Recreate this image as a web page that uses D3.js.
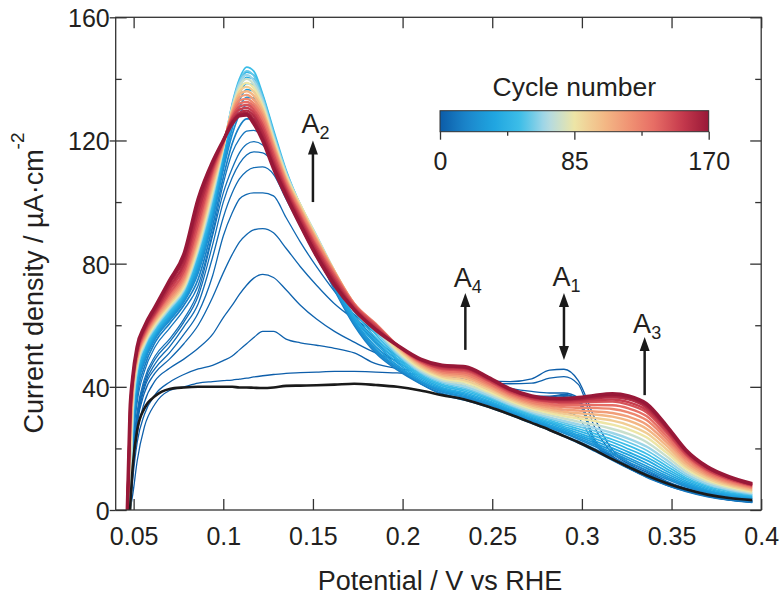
<!DOCTYPE html>
<html>
<head>
<meta charset="utf-8">
<script src="https://cdn.jsdelivr.net/npm/d3@7"></script>
<style>
  body { margin: 0; background: #fff; }
  svg { display: block; font-family: "Liberation Sans", Arial, sans-serif; }
</style>
</head>
<body>
<div id="chart"></div>
<script>
// potential grid (V vs RHE), shared by all cycles
const potential = [0.0465, 0.048, 0.0495, 0.052, 0.056, 0.062, 0.07, 0.078, 0.086, 0.094,
  0.1, 0.105, 0.109, 0.113, 0.117, 0.122, 0.128, 0.135, 0.143, 0.152,
  0.162, 0.173, 0.185, 0.197, 0.21, 0.222, 0.235, 0.248, 0.26, 0.272,
  0.282, 0.29, 0.298, 0.307, 0.317, 0.326, 0.336, 0.347, 0.358, 0.37,
  0.382, 0.395];

// current density (µA/cm2) for a selection of cycles
const j0 = [null, 0, 14, 26, 33, 37, 39.3, 39.8, 40, 40, 40, 40, 39.8, 39.8, 39.7, 39.6, 39.8, 40.3, 40.4, 40.5, 40.7, 41, 40.6, 40, 38.8, 37.3, 35.8, 33.5, 31, 28.3, 26, 24, 22, 19.5, 16.5, 14, 11.3, 8.8, 6.7, 5, 3.9, 3.2];
const j1 = [null, 0, 5, 16, 27, 34.5, 38.8, 40, 41.2, 41.7, 42, 42.2, 42.5, 42.8, 43.2, 43.6, 44, 44.4, 44.6, 44.8, 45, 45, 44.8, 44.5, 44, 43.5, 43, 42, 41.7, 42.6, 45.4, 45.7, 42, 30, 19.5, 15.5, 12.8, 9.4, 7.1, 5.2, 3.9, 3.1];
const j2 = [null, 0, 10, 22, 31, 37.5, 41.5, 44, 45.8, 47, 48.5, 50, 52, 54, 56, 58, 58, 55.5, 54.3, 53.5, 52.5, 51, 47.5, 46, 45, 44, 43, 41.3, 41, 41.2, 42.8, 43.3, 40.8, 27, 18.5, 15, 12.3, 9.1, 6.9, 5, 3.8, 3];
const j3 = [null, 0, 12, 25, 35, 42, 46, 49, 52.5, 57, 62.5, 66.5, 70, 73, 75.3, 76.5, 75.5, 71.5, 66.5, 62, 58, 54.5, 51, 48.5, 46.5, 45, 43.5, 41, 39.5, 38.5, 38, 38, 36.5, 23, 17.5, 14.5, 11.5, 8.7, 6.7, 4.9, 3.7, 2.9];
const j4 = [null, 0, 14, 28, 38, 44.5, 49, 54, 60, 69, 77, 83, 87, 89.5, 91, 91.4, 90, 85, 79, 73, 67, 62, 57.5, 52.5, 48.5, 45.5, 43.5, 41, 38.5, 37, 37, 37.5, 36, 22.5, 17.2, 14.2, 11.3, 8.5, 6.5, 4.8, 3.6, 2.8];
const j5 = [null, 0, 15, 29, 39.5, 46, 51, 57, 64, 76, 89, 96.5, 101, 102.5, 103, 103, 102, 95, 87, 79, 71, 63.5, 57.5, 52.5, 48.5, 46, 44.5, 41.5, 38.5, 36.5, 36.7, 37.2, 35.8, 22.3, 17, 14, 11.1, 8.4, 6.4, 4.7, 3.5, 2.7];
const j6 = [null, 0, 16, 30, 40.5, 47.5, 53, 59.5, 67, 82, 95, 103, 107.5, 110, 111.2, 111.4, 109, 101, 92, 82, 72.5, 63, 55.5, 50, 46.5, 44, 42.5, 40.5, 38, 35.8, 36.2, 36.8, 35.2, 22, 16.8, 13.8, 11, 8.3, 6.3, 4.6, 3.4, 2.6];
const j7 = [null, 0, 17, 31, 41.5, 49, 54.5, 61, 69.5, 86, 100, 108, 112.5, 115.3, 116.3, 116, 112.5, 104, 94, 83, 72.5, 62.5, 54.5, 49, 45.5, 43, 41.5, 40, 37.5, 35, 35.3, 36, 34.8, 21.8, 16.6, 13.6, 10.9, 8.2, 6.2, 4.5, 3.3, 2.5];
const j8 = [null, 0, 18, 32, 42.5, 50, 55.5, 62, 71, 89, 103, 111, 116, 118.8, 119.6, 118.5, 114, 105, 95, 83, 72, 61.5, 53, 48, 44.5, 42, 40.5, 39, 36.5, 33.5, 32.5, 32, 30, 21.5, 16.4, 13.5, 10.8, 8.1, 6.1, 4.4, 3.2, 2.4];
const j10 = [null, 0, 20, 35, 45, 53, 59, 65, 73, 90, 106, 116, 120.5, 123, 123.3, 121, 114.5, 104.5, 94, 83, 72, 61, 52, 46, 41, 37.5, 35.6, 33.3, 30.8, 28.1, 25.8, 23.8, 21.7, 19.1, 16.1, 13.5, 10.6, 8.1, 6, 4.3, 3.2, 2.5];
const j14 = [null, 0, 22, 37, 46.5, 54.5, 60.5, 66.5, 75, 92, 108, 119, 124.5, 127, 127, 124, 116.5, 106, 95, 83.5, 71.5, 60, 51, 45.5, 41, 37.8, 36, 33.7, 31.2, 28.5, 26.2, 24.2, 22.3, 19.9, 16.9, 14.5, 11.8, 9.2, 6.6, 4.8, 3.6, 2.8];
const j20 = [null, 0, 24, 39, 48, 55.5, 61.5, 67.5, 77, 94, 110.5, 122, 128.5, 131.5, 131.5, 127.5, 118, 107, 95.5, 84, 72, 60.5, 51.5, 46, 41.5, 38.3, 36.5, 34.2, 31.6, 28.9, 26.7, 24.9, 23, 20.7, 18, 15.6, 12.9, 10.1, 7.6, 5.6, 4.4, 3.6];
const j24 = [null, 0, 25, 40, 48.8, 56, 62, 68, 78, 95.2, 111.8, 124, 130.8, 134, 133.8, 129.2, 119, 107.5, 95.8, 84.2, 72.2, 61, 52.2, 46.5, 41.8, 38.6, 36.8, 34.4, 31.8, 29.1, 27, 25.2, 23.4, 21.2, 18.6, 16.3, 13.6, 10.6, 8, 5.9, 4.6, 3.7];
const j28 = [null, 0, 26, 41, 49.5, 56.5, 62.5, 68.5, 79, 96.5, 113, 126, 133, 136.5, 136, 131, 120, 108, 96, 84.5, 72.5, 61.5, 53, 47, 42, 39, 37.2, 34.7, 32.1, 29.4, 27.3, 25.6, 23.9, 21.8, 19.3, 17, 14.3, 11.2, 8.4, 6.2, 4.8, 3.9];
const j33 = [null, 0, 27, 42, 50.2, 57, 63, 69, 80, 97.2, 114, 127.5, 135, 138.5, 138, 132.5, 121, 108.5, 96.5, 85.2, 73.5, 62.2, 54, 47.8, 42.5, 39.4, 37.6, 35.1, 32.4, 29.7, 27.7, 26.1, 24.4, 22.5, 20.1, 17.9, 15.2, 11.9, 8.9, 6.5, 5, 4.1];
const j38 = [null, 0, 28, 43, 51, 57.5, 63.5, 69.5, 81, 98, 115, 129, 137, 140.5, 140, 134, 122, 109, 97, 86, 74.5, 63, 55, 48.5, 43, 39.8, 38, 35.5, 32.7, 30.1, 28.2, 26.6, 25, 23.2, 21, 18.8, 16.2, 12.7, 9.4, 6.9, 5.3, 4.3];
const j44 = [null, 0, 29, 44, 51.8, 58, 64, 70, 82, 99, 116, 130.5, 138.5, 142.2, 141.3, 134.5, 122.8, 109.8, 98, 87.2, 76, 64.5, 56, 49.2, 43.5, 40.3, 38.5, 36, 33.1, 30.5, 28.6, 27.1, 25.7, 24, 22, 19.8, 17.2, 13.5, 10, 7.3, 5.6, 4.5];
const j50 = [null, 0, 30, 45, 52.5, 58.5, 64.5, 70.5, 83, 100, 117, 132, 140, 143.8, 142.5, 135, 123.5, 110.5, 99, 88.5, 77.5, 66, 57, 50, 44, 40.8, 39, 36.4, 33.5, 30.9, 29.1, 27.7, 26.4, 24.8, 22.9, 20.9, 18.3, 14.4, 10.5, 7.7, 6, 4.8];
const j57 = [null, 0, 31, 45.5, 53, 59, 65, 71, 83.8, 101, 117.2, 131.5, 139.2, 142.6, 141, 134, 122.5, 110, 99, 88.8, 77.5, 66, 57.8, 50.5, 44.5, 41.3, 39.5, 36.8, 33.9, 31.3, 29.6, 28.3, 27.1, 25.7, 24, 22, 19.4, 15.3, 11.1, 8.1, 6.3, 5];
const j65 = [null, 0, 32, 46, 53.5, 59.5, 65.5, 71.5, 84.5, 102, 117.5, 131, 138.5, 141.3, 139.5, 133, 121.5, 109.5, 99, 89, 77.5, 66, 58.5, 51, 45, 41.8, 40.1, 37.3, 34.3, 31.8, 30.1, 28.9, 27.8, 26.6, 25, 23.2, 20.6, 16.3, 11.8, 8.6, 6.7, 5.3];
const j75 = [null, 0, 34.5, 47, 54, 60, 66, 72, 85.2, 103, 117.8, 130.5, 137.5, 140, 138.2, 132, 120.8, 109, 99, 88.8, 77.5, 66.2, 59, 51.5, 45.5, 42.3, 40.8, 37.9, 34.8, 32.3, 30.8, 29.7, 28.7, 27.7, 26.3, 24.7, 22.1, 17.5, 12.6, 9.2, 7.1, 5.6];
const j85 = [0, 20, 37, 48, 54.5, 60.5, 66.5, 72.5, 86, 104, 118, 130, 136.5, 138.7, 137, 131, 120, 108.5, 99, 88.5, 77.5, 66.5, 59.5, 52, 46, 42.8, 41.5, 38.5, 35.4, 32.9, 31.5, 30.5, 29.7, 28.9, 27.7, 26.2, 23.6, 18.7, 13.5, 9.8, 7.6, 6];
const j95 = [0, 21.5, 37.8, 48.5, 55, 61, 67, 73.2, 87, 105, 118.2, 129.8, 135.8, 137.4, 135.8, 130.2, 119.5, 108, 98.5, 88.2, 77.5, 66.8, 59.8, 52.5, 46.5, 43.3, 42.1, 39.1, 35.9, 33.4, 32.1, 31.2, 30.5, 29.9, 29, 27.6, 25, 19.8, 14.2, 10.3, 8, 6.3];
const j105 = [0, 23, 38.5, 49, 55.5, 61.5, 67.5, 74, 88, 106, 118.5, 129.5, 135, 136, 134.5, 129.5, 119, 107.5, 98, 88, 77.5, 67, 60, 53, 47, 43.8, 42.8, 39.7, 36.4, 34, 32.7, 31.9, 31.4, 31, 30.3, 29, 26.4, 21, 15, 10.9, 8.4, 6.6];
const j115 = [0, 24.5, 39.2, 49.5, 56, 62, 68.2, 74.8, 89, 107, 118.8, 129, 134, 134.8, 133.2, 128.5, 118.2, 107, 97.5, 87.5, 77.2, 67, 60.2, 53.2, 47.4, 44.3, 43.4, 40.2, 36.9, 34.5, 33.3, 32.6, 32.3, 32, 31.5, 30.3, 27.8, 22.1, 15.8, 11.4, 8.8, 7];
const j125 = [0, 26, 40, 50, 56.5, 62.5, 69, 75.5, 90, 108, 119, 128.5, 133, 133.5, 132, 127.5, 117.5, 106.5, 97, 87, 77, 67, 60.5, 53.5, 47.8, 44.8, 44, 40.8, 37.4, 35, 33.9, 33.4, 33.2, 33.1, 32.8, 31.7, 29.2, 23.2, 16.6, 11.9, 9.2, 7.3];
const j135 = [0, 27.5, 40.8, 50.5, 57, 63, 69.8, 76.5, 91.5, 109, 119.2, 128, 132, 132.5, 131, 126.2, 116.5, 105.8, 96.2, 86.2, 76.5, 66.8, 60.2, 53.5, 48, 45.3, 44.6, 41.3, 37.8, 35.5, 34.5, 34, 34, 34.1, 34, 33, 30.5, 24.2, 17.3, 12.4, 9.6, 7.6];
const j145 = [0, 29, 41.5, 51, 57.5, 63.5, 70.5, 77.5, 93, 110, 119.5, 127.5, 131, 131.5, 130, 125, 115.5, 105, 95.5, 85.5, 76, 66.5, 60, 53.5, 48.3, 45.8, 45.2, 41.9, 38.3, 36, 35.1, 34.7, 34.8, 35.1, 35.2, 34.2, 31.7, 25.3, 18, 12.9, 10, 7.9];
const j152 = [0, 30, 42, 51.5, 58, 64, 71.5, 78.8, 95, 110.8, 119.8, 127, 130, 130.6, 129, 123.8, 114.2, 104.2, 94.8, 84.8, 75.2, 66, 59.5, 53.5, 48.5, 46.1, 45.6, 42.2, 38.6, 36.3, 35.4, 35.1, 35.3, 35.7, 35.9, 35, 32.5, 25.9, 18.4, 13.2, 10.2, 8];
const j160 = [0, 31, 42.5, 52, 58.5, 64.5, 72.5, 80, 97, 111.5, 120, 126.5, 129, 129.7, 128, 122.5, 113, 103.5, 94, 84, 74.5, 65.5, 59, 53.5, 48.7, 46.5, 46, 42.5, 38.9, 36.6, 35.8, 35.6, 35.8, 36.3, 36.6, 35.9, 33.3, 26.6, 18.9, 13.6, 10.5, 8.2];
const j165 = [0, 31.5, 42.8, 52.5, 59, 65.2, 73.5, 81.5, 99, 112.2, 120, 126, 128.5, 129, 126.8, 121.2, 112, 102.8, 93.2, 83.2, 73.8, 65.2, 58.8, 53.5, 48.8, 46.8, 46.2, 42.8, 39.1, 36.8, 36, 35.9, 36.1, 36.7, 37.1, 36.4, 33.9, 27, 19.2, 13.8, 10.6, 8.3];
const j170 = [0, 32, 43, 53, 59.5, 66, 74.5, 83, 101, 113, 120, 125.5, 128, 128.3, 125.5, 120, 111, 102, 92.5, 82.5, 73, 65, 58.5, 53.5, 49, 47, 46.5, 43, 39.3, 37, 36.3, 36.2, 36.5, 37.2, 37.7, 37, 34.5, 27.5, 19.5, 14, 10.8, 8.5];

const cycles = [[1, j1], [2, j2], [3, j3], [4, j4], [5, j5], [6, j6], [7, j7], [8, j8], [10, j10],
  [14, j14], [20, j20], [24, j24], [28, j28], [33, j33], [38, j38], [44, j44], [50, j50],
  [57, j57], [65, j65], [75, j75], [85, j85], [95, j95], [105, j105], [115, j115],
  [125, j125], [135, j135], [145, j145], [152, j152], [160, j160], [165, j165], [170, j170]];

const colorStops = ["#0c5ca8", "#1b86cb", "#1fa5e0", "#3ebee9", "#b0dae6", "#ede5a6",
  "#f3bd88", "#f19474", "#e66c64", "#c63a4d", "#981838"];

const xTicks = [0.05, 0.1, 0.15, 0.2, 0.25, 0.3, 0.35, 0.4];
const xTickLabels = ["0.05", "0.1", "0.15", "0.2", "0.25", "0.3", "0.35", "0.4"];
const yTicks = [0, 40, 80, 120, 160];
const yMinorTicks = [20, 60, 100, 140];
const cbTicks = [0, 85, 170];
const cbMinorTicks = [42.5, 127.5];

// peak annotations
const peakNames = ["2", "4", "1", "3"];
const peakPotential = [0.15, 0.235, 0.29, 0.335];
const arrowFrom = [100, 52, 48.7, 37.3];
const arrowTo = [120, 70.5, 70.5, 56.2];
const arrowBoth = [false, false, true, false];
const labelCurrent = [122.4, 72.4, 72.7, 57.5];

const width = 781, height = 597;
const plotLeft = 115.7, plotTop = 17.3;
const plotW = 761.2 - plotLeft, plotH = 510 - plotTop;
const ink = "#231f20";

const svg = d3.select("#chart").append("svg")
    .attr("width", width)
    .attr("height", height);

const x = d3.scaleLinear().domain([0.04, 0.4]).range([0, plotW]);
const y = d3.scaleLinear().domain([0, 160]).range([plotH, 0]);
const color = d3.scaleLinear()
    .domain(colorStops.map((c, i) => i * 170 / (colorStops.length - 1)))
    .range(colorStops)
    .interpolate(d3.interpolateRgb);

const defs = svg.append("defs");
defs.append("clipPath").attr("id", "clip")
    .append("rect").attr("width", plotW).attr("height", plotH);

const g = svg.append("g").attr("transform", `translate(${plotLeft},${plotTop})`);

const line = d3.line()
    .defined(d => d[1] !== null)
    .x(d => x(d[0]))
    .y(d => y(d[1]))
    .curve(d3.curveMonotoneX);

const toPoints = vals => vals.map((v, i) => [potential[i], v]);

function strokeFor(c) {
    if (c === 170) return 3.6;
    if (c <= 10) return 1.3;
    if (c <= 57) return 1.7;
    return 2.4;
}

const curves = g.append("g").attr("clip-path", "url(#clip)");

curves.selectAll("path.cycle")
    .data(cycles)
    .join("path")
    .attr("class", "cycle")
    .attr("fill", "none")
    .attr("stroke", d => color(d[0]))
    .attr("stroke-width", d => strokeFor(d[0]))
    .attr("stroke-linejoin", "round")
    .attr("d", d => line(toPoints(d[1])));

// cycle 0 on top, in black
curves.append("path")
    .attr("fill", "none")
    .attr("stroke", "#1a1a1a")
    .attr("stroke-width", 2.6)
    .attr("stroke-linejoin", "round")
    .attr("d", line(toPoints(j0)));

// axes
function styleAxis(sel) {
    sel.attr("color", "#333")
        .attr("font-size", 25)
        .attr("font-family", "Liberation Sans, Arial, sans-serif");
    sel.select(".domain").remove();
    sel.selectAll(".tick line").attr("stroke-width", 1.3);
    sel.selectAll(".tick text").attr("fill", ink);
}

g.append("g")
    .attr("transform", `translate(0,${plotH})`)
    .call(d3.axisBottom(x).tickValues(xTicks).tickFormat((d, i) => xTickLabels[i])
        .tickSizeInner(-11).tickSizeOuter(0).tickPadding(17))
    .call(styleAxis);

g.append("g")
    .call(d3.axisTop(x).tickValues(xTicks).tickFormat("").tickSizeInner(-11).tickSizeOuter(0))
    .call(styleAxis);

g.append("g")
    .call(d3.axisLeft(y).tickValues(yTicks).tickSizeInner(-11).tickSizeOuter(0).tickPadding(6))
    .call(styleAxis)
    .call(s => s.selectAll(".tick text").attr("dy", "0.38em"));

g.append("g")
    .call(d3.axisLeft(y).tickValues(yTicks).tickFormat("").tickSizeInner(6).tickSizeOuter(0))
    .call(styleAxis);

g.append("g")
    .call(d3.axisLeft(y).tickValues(yMinorTicks).tickFormat("").tickSizeInner(-6).tickSizeOuter(0))
    .call(styleAxis);

g.append("g")
    .attr("transform", `translate(${plotW},0)`)
    .call(d3.axisRight(y).tickValues(yTicks).tickFormat("").tickSizeInner(-11).tickSizeOuter(0))
    .call(styleAxis);

g.append("g")
    .attr("transform", `translate(${plotW},0)`)
    .call(d3.axisRight(y).tickValues(yMinorTicks).tickFormat("").tickSizeInner(-6).tickSizeOuter(0))
    .call(styleAxis);

g.append("rect")
    .attr("width", plotW)
    .attr("height", plotH)
    .attr("fill", "none")
    .attr("stroke", "#333")
    .attr("stroke-width", 1.3);

// axis titles
svg.append("text")
    .attr("x", 440)
    .attr("y", 590)
    .attr("text-anchor", "middle")
    .attr("font-size", 27)
    .attr("fill", ink)
    .text("Potential / V vs RHE");

const yTitle = svg.append("text")
    .attr("transform", "translate(43,283) rotate(-90)")
    .attr("text-anchor", "middle")
    .attr("font-size", 27)
    .attr("fill", ink);
yTitle.append("tspan").text("Current density / µA·cm");
yTitle.append("tspan").attr("dy", -19).attr("font-size", 19).text("-2");

// peak arrows
const arrows = g.append("g");
peakNames.forEach(function(name, i) {
    const px = x(peakPotential[i]);
    const yTip = y(arrowTo[i]);
    const yTail = y(arrowFrom[i]);
    const head = 14, half = 5;
    arrows.append("line")
        .attr("x1", px).attr("x2", px)
        .attr("y1", arrowBoth[i] ? yTail - head + 1 : yTail)
        .attr("y2", yTip + head - 1)
        .attr("stroke", "#1a1a1a")
        .attr("stroke-width", 2.5);
    arrows.append("path")
        .attr("d", `M${px},${yTip}L${px - half},${yTip + head}L${px + half},${yTip + head}Z`)
        .attr("fill", "#1a1a1a");
    if (arrowBoth[i]) {
        arrows.append("path")
            .attr("d", `M${px},${yTail}L${px - half},${yTail - head}L${px + half},${yTail - head}Z`)
            .attr("fill", "#1a1a1a");
    }
    const t = arrows.append("text")
        .attr("x", px + 2.5)
        .attr("y", y(labelCurrent[i]))
        .attr("text-anchor", "middle")
        .attr("fill", ink)
        .attr("font-size", 27);
    t.append("tspan").text("A");
    t.append("tspan").attr("dy", 6).attr("font-size", 18).text(name);
});

// colour bar
const cbX = 440, cbY = 110.7, cbW = 268.7, cbH = 21;
const cb = d3.scaleLinear().domain([0, 170]).range([0, cbW]);

const grad = defs.append("linearGradient").attr("id", "cbar");
grad.selectAll("stop")
    .data(d3.range(0, 170.01, 5))
    .join("stop")
    .attr("offset", d => d / 170)
    .attr("stop-color", d => color(d));

const cbg = svg.append("g").attr("transform", `translate(${cbX},${cbY})`);
cbg.append("rect")
    .attr("width", cbW)
    .attr("height", cbH)
    .attr("fill", "url(#cbar)")
    .attr("stroke", "#333")
    .attr("stroke-width", 1);

cbg.append("g")
    .attr("transform", `translate(0,${cbH})`)
    .call(d3.axisBottom(cb).tickValues(cbTicks).tickSizeInner(8).tickSizeOuter(0).tickPadding(12.5))
    .call(styleAxis);

cbg.append("g")
    .attr("transform", `translate(0,${cbH})`)
    .call(d3.axisBottom(cb).tickValues(cbMinorTicks).tickFormat("").tickSizeInner(4).tickSizeOuter(0))
    .call(styleAxis);

cbg.append("text")
    .attr("x", cbW / 2)
    .attr("y", 96 - cbY)
    .attr("text-anchor", "middle")
    .attr("font-size", 26.5)
    .attr("fill", ink)
    .text("Cycle number");
</script>
</body>
</html>
